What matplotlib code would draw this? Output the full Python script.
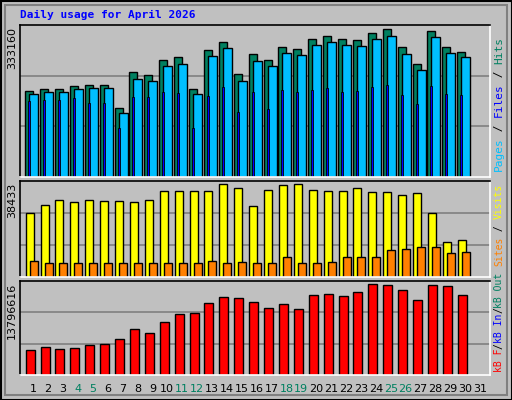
import matplotlib
matplotlib.use("Agg")
import matplotlib.pyplot as plt
import matplotlib.transforms as mtransforms
from matplotlib.patches import Rectangle
import numpy as np

days = list(range(1, 31))
hits = [188500, 192900, 192900, 199500, 201700, 201700, 151200, 230200, 223600, 256500,
        263000, 192900, 278400, 295900, 225800, 269600, 256500, 285000, 280600, 302500,
        309100, 302500, 300300, 315600, 324400, 285000, 247700, 320000, 285000, 274000]
files = [183000, 186000, 186000, 193000, 195000, 195000, 140000, 215000, 210000, 243000,
         248000, 182000, 265000, 282000, 211000, 255000, 243000, 272000, 268000, 289000,
         296000, 289000, 287000, 302000, 310000, 270000, 235000, 306000, 271000, 262000]
pages = [166000, 168000, 168000, 173000, 162000, 162000, 107000, 175000, 175000, 186000,
         184000, 107000, 178000, 197000, 142000, 186000, 150000, 190000, 186000, 190000,
         195000, 186000, 188000, 197000, 201000, 180000, 160000, 199000, 182000, 180000]
visits = [25600, 28800, 30800, 30000, 30800, 30400, 30400, 30000, 30800, 34400,
          34400, 34400, 34400, 37200, 35600, 28400, 34800, 36800, 37200, 34800,
          34400, 34400, 35600, 34000, 34000, 32800, 33600, 25600, 14000, 14800]
sites = [6400, 5600, 5600, 5600, 5600, 5600, 5600, 5600, 5600, 5600,
         5600, 5600, 6400, 5600, 6000, 5600, 5600, 8000, 5600, 5600,
         6000, 8000, 8000, 8000, 10800, 11200, 12000, 12000, 9600, 10000]
kbytes = [3670000, 4110000, 3820000, 3960000, 4400000, 4550000, 5280000, 6750000, 6160000, 7780000,
          8950000, 9100000, 10570000, 11450000, 11300000, 10710000, 9830000, 10420000, 9690000, 11740000,
          11890000, 11600000, 12180000, 13350000, 13210000, 12470000, 11010000, 13210000, 13060000, 11740000]
max_hits, max_visits, max_kb = 333160, 38433, 13796616
weekend = [4, 5, 11, 12, 18, 19, 25, 26]

W, H = 512, 400
BG = "#C0C0C0"
fig = plt.figure(figsize=(5.12, 4.0), dpi=100, facecolor=BG)
px = 1 / 14.9  # one pixel in day units
d = np.array(days)

def mkax(top, bottom):
    ax = fig.add_axes([20 / W, 1 - bottom / H, 470 / W, (bottom - top) / H])
    ax.set_facecolor(BG)
    ax.set_xlim(0.12, 31.66)
    ax.set_xticks([])
    ax.set_yticks([])
    for s in ax.spines.values():
        s.set_linewidth(1.2)
    ax.spines["bottom"].set_color("white")
    ax.spines["right"].set_color("white")
    return ax

ax1 = mkax(25, 177)
ax1.set_ylim(0, max_hits * 1.0)
for f in (1 / 3, 2 / 3):
    ax1.axhline(max_hits * f, color="#808080", lw=1.2, zorder=0)
ax1.bar(d - 4 * px, hits, width=8 * px, color="#008060", edgecolor="black", lw=1)
ax1.bar(d + 0.5 * px, files, width=9 * px, color="#00BFFF", edgecolor="black", lw=1)
ax1.bar(d - 4 * px, pages, width=2 * px, color="#0000FF", edgecolor="black", lw=0.6)

ax2 = mkax(181, 277)
ax2.set_ylim(0, max_visits)
for f in (1 / 3, 2 / 3):
    ax2.axhline(max_visits * f, color="#808080", lw=1.2, zorder=0)
ax2.bar(d - 3.5 * px, visits, width=8 * px, color="#FFFF00", edgecolor="black", lw=1)
ax2.bar(d + 0.5 * px, sites, width=8 * px, color="#FF8000", edgecolor="black", lw=1)

ax3 = mkax(281, 375)
ax3.set_ylim(0, max_kb)
for f in (1 / 3, 2 / 3):
    ax3.axhline(max_kb * f, color="#808080", lw=1.2, zorder=0)
ax3.bar(d - 3 * px, kbytes, width=9 * px, color="#FF0000", edgecolor="black", lw=1)

# day labels
tr = mtransforms.blended_transform_factory(ax3.transData, fig.transFigure)
for dd in range(1, 32):
    ax3.text(dd, 1 - 389 / H, str(dd), transform=tr, ha="center", va="center",
             fontsize=8, color="#008060" if dd in weekend else "black", clip_on=False)

# max labels
for top, lab in ((25, "333160"), (181, "38433"), (281, "13796616")):
    fig.text(12 / W, 1 - (top + 2) / H, lab, rotation=90, ha="center", va="top", fontsize=8)

fig.text(20 / W, 1 - 15 / H, "Daily usage for April 2026", color="#0000FF",
         family="DejaVu Sans Mono", fontweight="bold", fontsize=8, va="center")

# right side legends, bottom-to-top
def legend(bottom, parts, fs):
    cw = 0.602 * fs * 100 / 72
    y = bottom
    for txt, col in parts:
        fig.text(499 / W, 1 - y / H, txt, rotation=90, ha="center", va="bottom",
                 color=col, family="DejaVu Sans Mono", fontsize=fs)
        y -= cw * len(txt)

legend(171, [("Pages", "#00BFFF"), (" / ", "black"), ("Files", "#0000FF"), (" / ", "black"), ("Hits", "#008060")], 8)
legend(372, [("kB F", "#FF0000"), ("/", "black"), ("kB In", "#0000FF"), ("/", "black"), ("kB Out", "#008060")], 7)
legend(266, [("Sites", "#FF8000"), (" / ", "black"), ("Visits", "#FFFF00")], 7)

# frame
fig.patches.append(Rectangle((0.5 / W, 0.5 / H), 1 - 1 / W, 1 - 1 / H, transform=fig.transFigure,
                             fill=False, edgecolor="black", lw=1.5))
fig.patches.append(Rectangle((5 / W, 5 / H), 1 - 10 / W, 1 - 10 / H, transform=fig.transFigure,
                             fill=False, edgecolor="#808080", lw=1.5))

fig.savefig("out.png", dpi=100, facecolor=BG)
